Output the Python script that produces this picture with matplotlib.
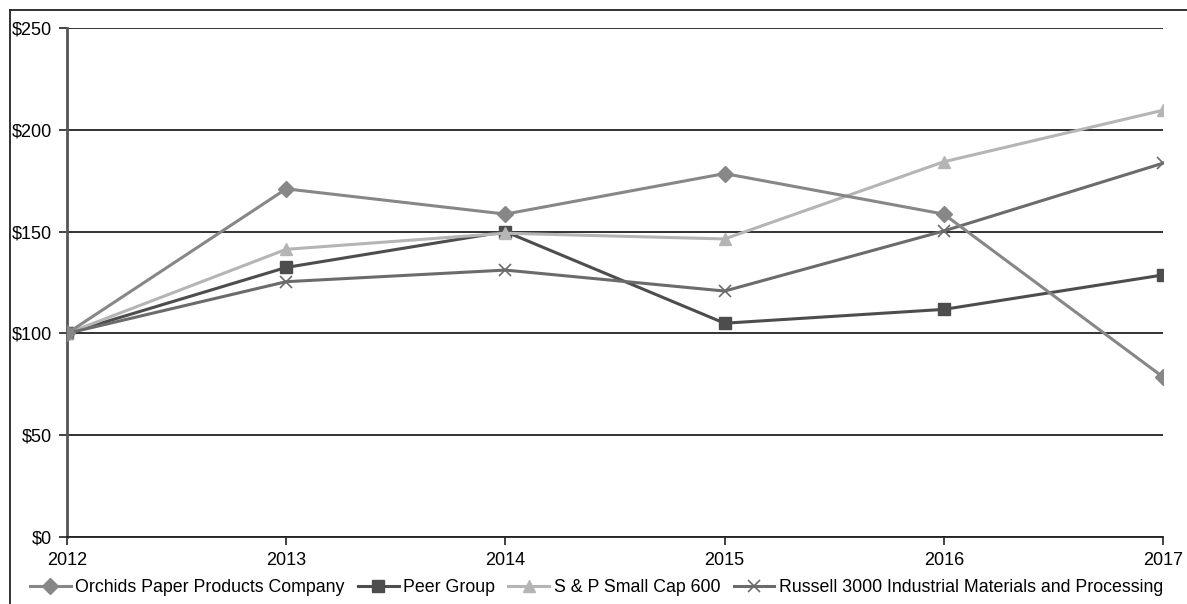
import matplotlib.pyplot as plt
from matplotlib.lines import Line2D
from matplotlib.ticker import FuncFormatter

plt.rcParams['font.family'] = ['Liberation Sans', 'DejaVu Sans']

years = [2012, 2013, 2014, 2015, 2016, 2017]
orchids = [100, 171, 158.6, 178.5, 158.6, 78.6]
peer = [100, 132.4, 150, 105, 111.8, 128.7]
sp600 = [100, 141.3, 149.2, 146.4, 184.3, 209.6]
russell = [100, 125.4, 131.1, 120.8, 150.3, 183.6]

labels = ["Orchids Paper Products Company", "Peer Group", "S & P Small Cap 600",
          "Russell 3000 Industrial Materials and Processing"]

fig = plt.figure(figsize=(11.87, 6.04), dpi=100)
ax = fig.add_axes([67 / 1187, 1 - 537 / 604, (1163 - 67) / 1187, (537 - 28) / 604])

# series
ax.plot(years, orchids, color='#878787', lw=2.2, marker='D', ms=8, label=labels[0], zorder=4)
ax.plot(years, peer, color='#4d4d4d', lw=2.2, marker='s', ms=8, label=labels[1], zorder=3)
ax.plot(years, sp600, color='#b5b5b5', lw=2.2, marker='^', ms=9, label=labels[2], zorder=3)
ax.plot(years, russell, color='#6b6b6b', lw=2.2, marker='x', ms=8, mew=1.2, label=labels[3], zorder=3)

ax.set_xlim(2012, 2017)
ax.set_ylim(0, 250)
ax.set_xticks(years)
ax.set_yticks([0, 50, 100, 150, 200, 250])
ax.yaxis.set_major_formatter(FuncFormatter(lambda v, p: f"${v:.0f}"))
ax.yaxis.grid(True, color='#222222', lw=1.3)
ax.set_axisbelow(True)

for s in ['top', 'right']:
    ax.spines[s].set_visible(False)
ax.spines['left'].set_color('#555555')
ax.spines['left'].set_linewidth(2)
ax.spines['bottom'].set_color('#222222')
ax.spines['bottom'].set_linewidth(1.3)
ax.tick_params(axis='both', labelsize=13, colors='#222222', length=6, width=1.2)
ax.tick_params(axis='y', pad=5)
ax.tick_params(axis='x', pad=5)
for t in ax.get_xticklabels() + ax.get_yticklabels():
    t.set_color('black')

ax.legend(loc='upper center', bbox_to_anchor=(0.483, -0.068), ncol=4, frameon=False,
          fontsize=12.8, handlelength=2.3, handletextpad=0.25, columnspacing=0.75,
          borderaxespad=0)

# outer frame (left and top only)
fig.add_artist(Line2D([10 / 1187, 10 / 1187], [0, 1 - 10 / 604], color='#222222', lw=1.3))
fig.add_artist(Line2D([10 / 1187, 1], [1 - 10 / 604, 1 - 10 / 604], color='#222222', lw=1.3))

fig.savefig('out.png', dpi=100)
